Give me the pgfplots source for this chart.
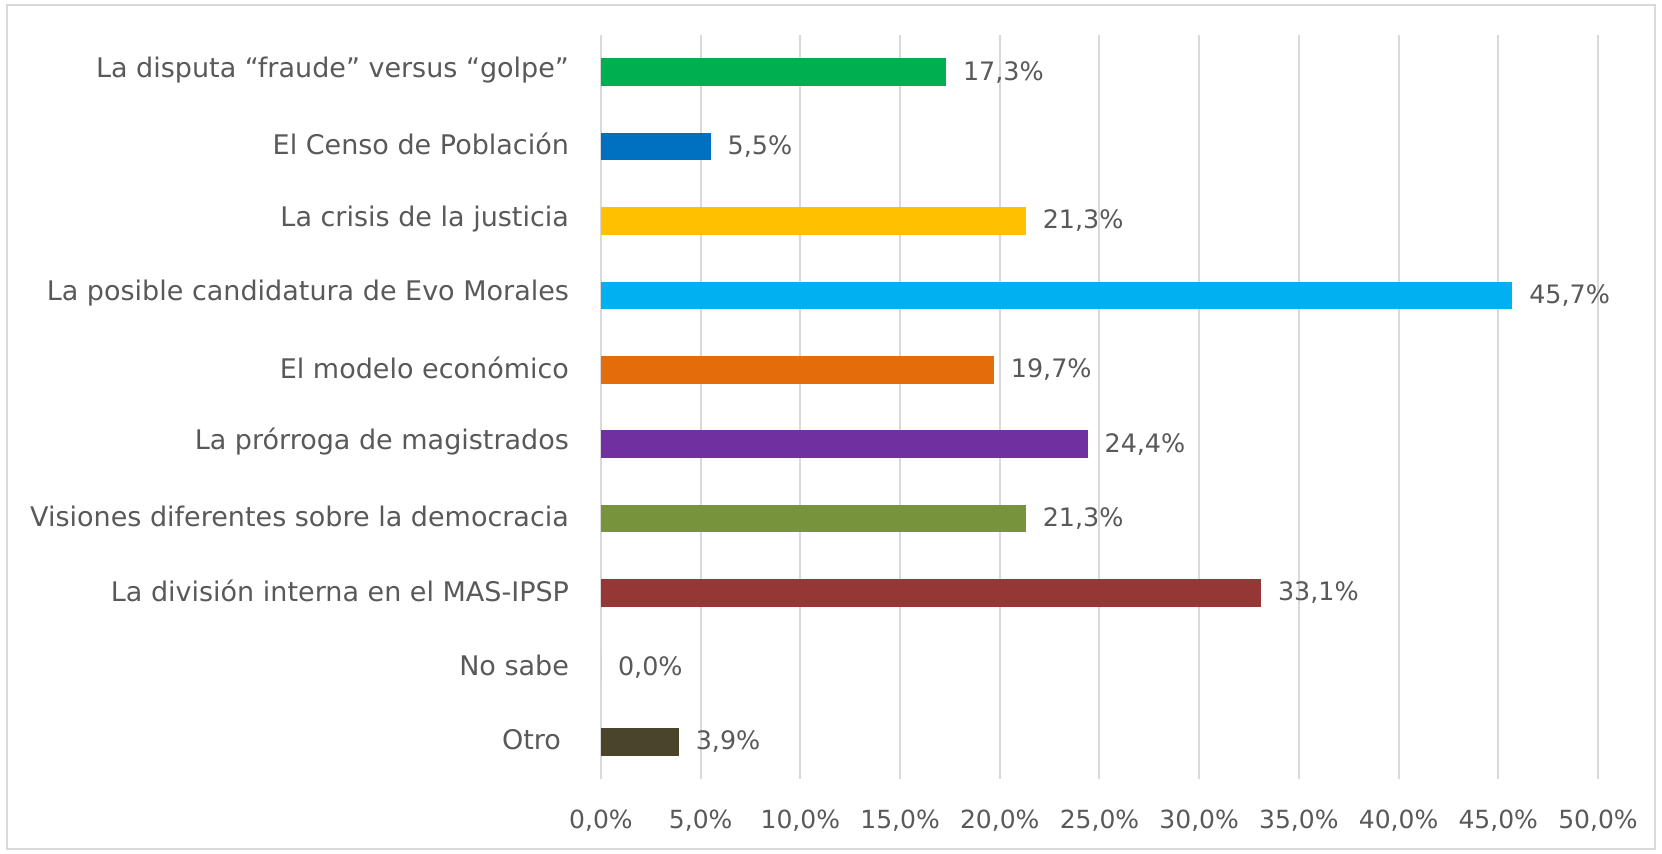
\documentclass[border=0pt]{standalone}
\usepackage{fontspec}
\setmainfont{DejaVu Sans}
\usepackage{pgfplots}
\pgfplotsset{compat=1.18}
\definecolor{txt}{HTML}{595959}
\definecolor{gridgray}{HTML}{D9D9D9}
\definecolor{c1}{HTML}{00B050}
\definecolor{c2}{HTML}{0070C0}
\definecolor{c3}{HTML}{FFC000}
\definecolor{c4}{HTML}{00B0F0}
\definecolor{c5}{HTML}{E46C0A}
\definecolor{c6}{HTML}{7030A0}
\definecolor{c7}{HTML}{77933C}
\definecolor{c8}{HTML}{953735}
\definecolor{c9}{HTML}{A6A6A6}
\definecolor{c10}{HTML}{4A452A}
\begin{document}
\begin{tikzpicture}[x=1pt,y=1pt]
\useasboundingbox (0,0) rectangle (831,427);
\draw[color=gridgray, line width=1pt] (3.5,2.5) rectangle (827.5,424.5);
\begin{axis}[
  at={(300.5pt,37.5pt)}, anchor=south west,
  scale only axis, width=498.5pt, height=372pt,
  xmin=0, xmax=50, ymin=-0.5, ymax=9.5, y dir=reverse,
  xtick={0,5,...,50}, ytick={0,...,9},
  yticklabels={La disputa “fraude” versus “golpe”, El Censo de Población, La crisis de la justicia, La posible candidatura de Evo Morales, El modelo económico, La prórroga de magistrados, Visiones diferentes sobre la democracia, La división interna en el MAS-IPSP, No sabe, Otro\hspace*{4pt}},
  xticklabel={\pgfmathprintnumber[use comma,fixed,fixed zerofill,precision=1,assume math mode=true]{\tick}\%},
  axis line style={draw=none}, major tick length=0pt,
  xmajorgrids, grid style={color=gridgray, line width=1pt},
  tick label style={font=\fontsize{12.5}{15}\selectfont, text=txt},
  xticklabel style={anchor=north, yshift=-12pt},
  yticklabel style={anchor=east, xshift=-12.5pt, yshift=1.2pt, font=\fontsize{13.5}{16}\selectfont},
  xbar, bar width=13.75pt, bar shift=0pt,
  point meta=x,
  nodes near coords={\pgfmathprintnumber[use comma,fixed,fixed zerofill,precision=1,assume math mode=true]{\pgfplotspointmeta}\%},
  nodes near coords style={anchor=west, xshift=5pt, font=\fontsize{12.7}{15}\selectfont, text=txt},
]
\addplot[fill=c1, draw=none] coordinates {(17.3,0)};
\addplot[fill=c2, draw=none] coordinates {(5.5,1)};
\addplot[fill=c3, draw=none] coordinates {(21.3,2)};
\addplot[fill=c4, draw=none] coordinates {(45.7,3)};
\addplot[fill=c5, draw=none] coordinates {(19.7,4)};
\addplot[fill=c6, draw=none] coordinates {(24.4,5)};
\addplot[fill=c7, draw=none] coordinates {(21.3,6)};
\addplot[fill=c8, draw=none] coordinates {(33.1,7)};
\addplot[fill=c9, draw=none] coordinates {(0.0,8)};
\addplot[fill=c10, draw=none] coordinates {(3.9,9)};
\end{axis}
\end{tikzpicture}
\end{document}
